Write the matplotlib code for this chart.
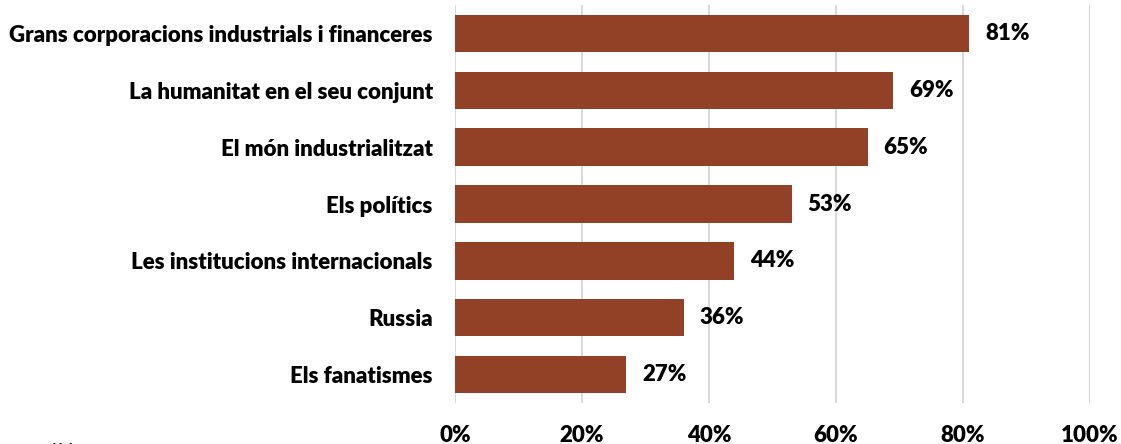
import matplotlib
matplotlib.use("Agg")
import matplotlib.pyplot as plt

categories = ["Grans corporacions industrials i financeres",
              "La humanitat en el seu conjunt",
              "El món industrialitzat",
              "Els polítics",
              "Les institucions internacionals",
              "Russia",
              "Els fanatismes"]
values = [81, 69, 65, 53, 44, 36, 27]
xticks = [0, 20, 40, 60, 80, 100]
xticklabels = ["0%", "20%", "40%", "60%", "80%", "100%"]

plt.rcParams['font.family'] = ['Lato', 'DejaVu Sans']

fig = plt.figure(figsize=(11.21, 4.44), dpi=100)
ax = fig.add_axes([455/1121, 1-403/444, 635/1121, 398/444])

y = list(range(len(categories)))
ax.barh(y, values, height=0.66, color="#934126", zorder=3)
for yi, v in zip(y, values):
    ax.text(v + 2.5, yi, f"{v}%", va="center", ha="left",
            fontsize=16, fontweight="heavy", color="black")

ax.set_ylim(len(categories) - 0.5, -0.5)
ax.set_xlim(0, 100)
ax.set_yticks(y)
ax.set_yticklabels(categories, fontsize=16, fontweight="heavy")
ax.set_xticks(xticks)
ax.set_xticklabels(xticklabels, fontsize=16, fontweight="heavy")
ax.tick_params(axis="y", length=0, pad=16)
ax.tick_params(axis="x", length=0, pad=16)
ax.grid(axis="x", color="#d9d9d9", linewidth=1.5, zorder=0)
for s in ax.spines.values():
    s.set_visible(False)

fig.text(0.027, -0.03, "polítiques", fontsize=14, ha="left", va="baseline")

fig.savefig("out.png", dpi=100)
